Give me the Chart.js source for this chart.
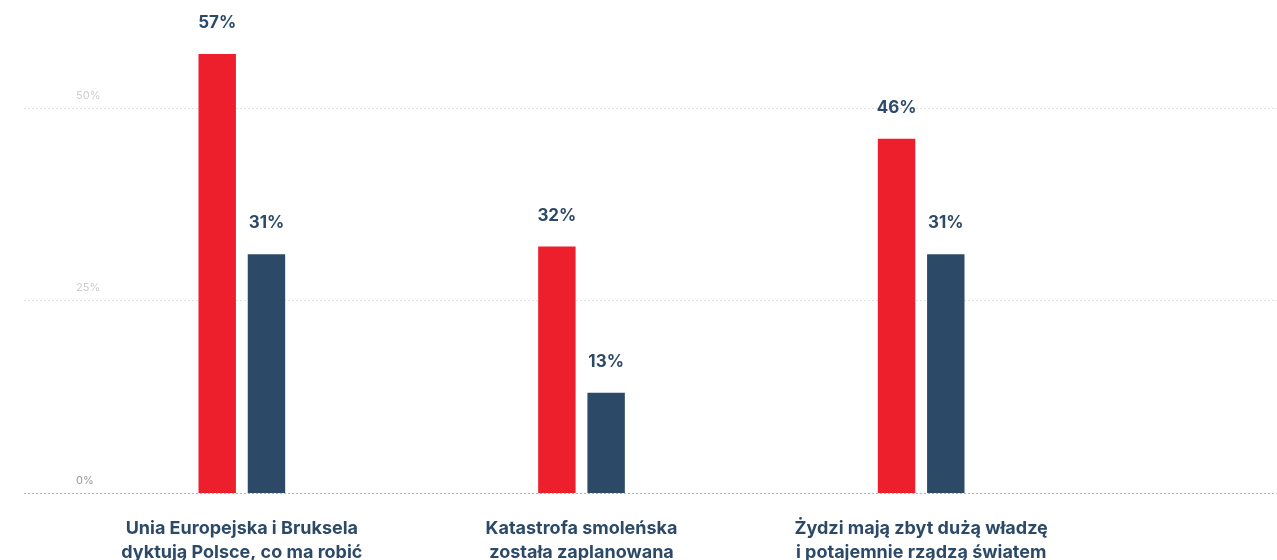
<!DOCTYPE html>
<html>
<head>
<meta charset="utf-8">
<script src="https://cdn.jsdelivr.net/npm/chart.js@4/dist/chart.umd.min.js"></script>
<style>
  body { margin: 0; background: #fff; }
  #wrap { width: 1277px; height: 560px; position: relative; }
</style>
</head>
<body>
<div id="wrap"><canvas id="chart"></canvas></div>
<script>
// data
const categories = [
  ['Unia Europejska i Bruksela', 'dyktują Polsce, co ma robić'],
  ['Katastrofa smoleńska', 'została zaplanowana'],
  ['Żydzi mają zbyt dużą władzę', 'i potajemnie rządzą światem']
];
const seriesRed = [57, 32, 46];
const seriesBlue = [31, 13, 31];
const yTicks = [0, 25, 50];

const RED = '#ed1f2d';
const BLUE = '#2c4a68';

// gridlines + y labels across the full width, value labels above bars
const decorations = {
  id: 'decorations',
  beforeDatasetsDraw(chart) {
    const { ctx, scales: { y } } = chart;
    ctx.save();
    ctx.lineWidth = 1;
    ctx.setLineDash([2, 2]);
    ctx.font = '11px Inter, sans-serif';
    ctx.textBaseline = 'middle';
    ctx.textAlign = 'left';
    yTicks.forEach(v => {
      const py = Math.round(y.getPixelForValue(v)) + 0.5;
      ctx.strokeStyle = v === 0 ? '#b5b5b5' : '#e2e2e2';
      ctx.beginPath();
      ctx.moveTo(24, py);
      ctx.lineTo(chart.width, py);
      ctx.stroke();
      ctx.fillStyle = v === 0 ? '#9a9a9a' : '#cccccc';
      ctx.fillText(v + '%', 76, py - 13);
    });
    ctx.restore();
  },
  afterDatasetsDraw(chart) {
    const { ctx } = chart;
    ctx.save();
    ctx.font = 'bold 17px Inter, sans-serif';
    ctx.fillStyle = BLUE;
    ctx.textAlign = 'center';
    ctx.textBaseline = 'middle';
    chart.data.datasets.forEach((ds, i) => {
      chart.getDatasetMeta(i).data.forEach((bar, j) => {
        ctx.fillText(ds.data[j] + '%', bar.x, bar.y - 31);
      });
    });
    ctx.restore();
  }
};

new Chart(document.getElementById('chart'), {
  type: 'bar',
  data: {
    labels: categories,
    datasets: [
      { data: seriesRed, backgroundColor: RED },
      { data: seriesBlue, backgroundColor: BLUE }
    ]
  },
  options: {
    responsive: true,
    maintainAspectRatio: false,
    animation: false,
    categoryPercentage: 0.29,
    barPercentage: 0.76,
    layout: { padding: { left: 72, right: 186, top: 0, bottom: 0 } },
    plugins: { legend: { display: false }, tooltip: { enabled: false } },
    scales: {
      x: {
        grid: { display: false },
        border: { display: false },
        ticks: {
          color: BLUE,
          padding: 16,
          font: { family: 'Inter, sans-serif', size: 18, weight: 'bold', lineHeight: 1.333 },
          maxRotation: 0,
          autoSkip: false
        },
        afterFit(scale) { scale.height = 67; }
      },
      y: {
        display: false,
        min: 0,
        max: 64
      }
    }
  },
  plugins: [decorations]
});
</script>
</body>
</html>
